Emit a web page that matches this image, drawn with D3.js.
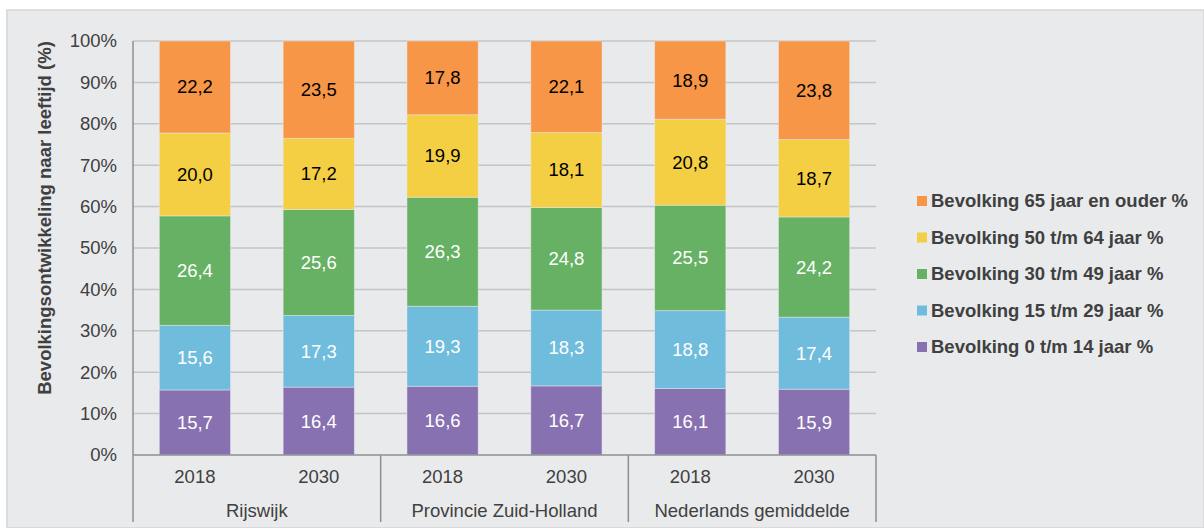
<!DOCTYPE html>
<html>
<head>
<meta charset="utf-8">
<script src="https://cdn.jsdelivr.net/npm/d3@7"></script>
<style>
    body { margin: 0; background: #ffffff; }
    #chart text { font-family: "Liberation Sans", Arial, sans-serif; }
</style>
</head>
<body>
<svg id="chart" width="1204" height="528"></svg>
<script>
    // categories
    const groups = ["Rijswijk", "Provincie Zuid-Holland", "Nederlands gemiddelde"];
    const years = ["2018", "2030"];

    // series values, one per bar (Rijswijk 2018, 2030, ZH 2018, 2030, NL 2018, 2030)
    const age0to14 = [15.7, 16.4, 16.6, 16.7, 16.1, 15.9];
    const age15to29 = [15.6, 17.3, 19.3, 18.3, 18.8, 17.4];
    const age30to49 = [26.4, 25.6, 26.3, 24.8, 25.5, 24.2];
    const age50to64 = [20.0, 17.2, 19.9, 18.1, 20.8, 18.7];
    const age65plus = [22.2, 23.5, 17.8, 22.1, 18.9, 23.8];

    const seriesNames = [
        "Bevolking 0 t/m 14 jaar %",
        "Bevolking 15 t/m 29 jaar %",
        "Bevolking 30 t/m 49 jaar %",
        "Bevolking 50 t/m 64 jaar %",
        "Bevolking 65 jaar en ouder %"
    ];
    const seriesValues = [age0to14, age15to29, age30to49, age50to64, age65plus];
    const seriesColors = ["#8771b0", "#70bcdc", "#66b163", "#f4cf43", "#f79646"];
    const labelColors = ["#ffffff", "#ffffff", "#ffffff", "#000000", "#000000"];

    const yTicks = [0, 0.1, 0.2, 0.3, 0.4, 0.5, 0.6, 0.7, 0.8, 0.9, 1];
    const yTitle = "Bevolkingsontwikkeling naar leeftijd (%)";

    const fontSize = 18.5;
    const svg = d3.select("#chart");

    // chart background
    svg.append("rect")
        .attr("x", 7).attr("y", 10)
        .attr("width", 1204 - 7).attr("height", 528 - 10)
        .attr("fill", "#e9eaec")
        .attr("stroke", "#d4d5d7")
        .attr("stroke-width", 1.5);

    const plotLeft = 133, plotRight = 876, plotTop = 41, plotBottom = 455;

    const bars = [];
    groups.forEach(g => years.forEach(y => bars.push({ group: g, year: y })));
    bars.forEach((b, i) => {
        b.key = i;
        b.total = d3.sum(seriesValues, s => s[i]);
    });

    const x = d3.scaleBand()
        .domain(bars.map(b => b.key))
        .range([plotLeft, plotRight])
        .paddingInner(0.425)
        .paddingOuter(0.2125);

    const y = d3.scaleLinear().domain([0, 1]).range([plotBottom, plotTop]);

    // gridlines
    svg.append("g")
        .selectAll("line")
        .data(yTicks.filter(t => t > 0))
        .join("line")
        .attr("x1", plotLeft).attr("x2", plotRight)
        .attr("y1", d => y(d)).attr("y2", d => y(d))
        .attr("stroke", "#c3c4c6")
        .attr("stroke-width", 1.5);

    // y axis labels
    const yAxis = d3.axisLeft(y)
        .tickValues(yTicks)
        .tickFormat(d3.format(".0%"))
        .tickSize(0)
        .tickPadding(16);
    const yAxisG = svg.append("g")
        .attr("transform", `translate(${plotLeft},0)`)
        .call(yAxis);
    yAxisG.select(".domain").remove();
    yAxisG.selectAll("text")
        .attr("font-size", fontSize)
        .attr("font-family", "Liberation Sans, Arial, sans-serif")
        .attr("fill", "#404040");

    // stacked bars (100%)
    const stack = d3.stack()
        .keys(d3.range(seriesValues.length))
        .value((b, k) => seriesValues[k][b.key] / b.total);
    const stacked = stack(bars);

    const layers = svg.append("g")
        .selectAll("g")
        .data(stacked)
        .join("g")
        .attr("fill", (d, i) => seriesColors[i]);

    layers.selectAll("rect")
        .data(d => d)
        .join("rect")
        .attr("x", d => x(d.data.key))
        .attr("width", x.bandwidth())
        .attr("y", d => y(d[1]))
        .attr("height", d => y(d[0]) - y(d[1]))
        .attr("stroke", "#e9eaec")
        .attr("stroke-opacity", 0.6)
        .attr("stroke-width", 0.8);

    layers.each(function(layer, i) {
        d3.select(this).selectAll("text")
            .data(layer)
            .join("text")
            .attr("x", d => x(d.data.key) + x.bandwidth() / 2)
            .attr("y", d => (y(d[0]) + y(d[1])) / 2)
            .attr("dy", "0.35em")
            .attr("text-anchor", "middle")
            .attr("font-size", fontSize)
            .attr("fill", labelColors[i])
            .text(d => d3.format(".1f")(seriesValues[i][d.data.key]).replace(".", ","));
    });

    // axis lines
    const axisColor = "#8e8f91";
    svg.append("line")
        .attr("x1", plotLeft).attr("x2", plotLeft)
        .attr("y1", plotTop).attr("y2", 522)
        .attr("stroke", axisColor).attr("stroke-width", 1.5);
    svg.append("line")
        .attr("x1", plotLeft).attr("x2", plotRight)
        .attr("y1", plotBottom).attr("y2", plotBottom)
        .attr("stroke", axisColor).attr("stroke-width", 1.5);

    // group separators
    const step = x.step();
    const groupEdges = d3.range(groups.length + 1).map(i => plotLeft + i * step * years.length);
    svg.append("g")
        .selectAll("line")
        .data(groupEdges.slice(1))
        .join("line")
        .attr("x1", d => d).attr("x2", d => d)
        .attr("y1", plotBottom).attr("y2", 522)
        .attr("stroke", axisColor).attr("stroke-width", 1.5);

    // year labels
    svg.append("g")
        .selectAll("text")
        .data(bars)
        .join("text")
        .attr("x", d => x(d.key) + x.bandwidth() / 2)
        .attr("y", 477)
        .attr("dy", "0.35em")
        .attr("text-anchor", "middle")
        .attr("font-size", fontSize)
        .attr("fill", "#404040")
        .text(d => d.year);

    // group labels
    svg.append("g")
        .selectAll("text")
        .data(groups)
        .join("text")
        .attr("x", (d, i) => (groupEdges[i] + groupEdges[i + 1]) / 2)
        .attr("y", 511)
        .attr("dy", "0.35em")
        .attr("text-anchor", "middle")
        .attr("font-size", fontSize)
        .attr("fill", "#404040")
        .text(d => d);

    // y axis title
    svg.append("text")
        .attr("transform", "translate(51,218) rotate(-90)")
        .attr("text-anchor", "middle")
        .attr("font-size", fontSize)
        .attr("font-weight", "bold")
        .attr("fill", "#404040")
        .text(yTitle);

    // legend
    const legendOrder = d3.range(seriesNames.length).reverse();
    const legend = svg.append("g")
        .selectAll("g")
        .data(legendOrder)
        .join("g")
        .attr("transform", (d, i) => `translate(917,${201 + i * 36.5})`);
    legend.append("rect")
        .attr("x", 0).attr("y", -5)
        .attr("width", 10).attr("height", 10)
        .attr("fill", d => seriesColors[d]);
    legend.append("text")
        .attr("x", 14)
        .attr("dy", "0.35em")
        .attr("font-size", fontSize)
        .attr("font-weight", "bold")
        .attr("fill", "#404040")
        .text(d => seriesNames[d]);
</script>
</body>
</html>
